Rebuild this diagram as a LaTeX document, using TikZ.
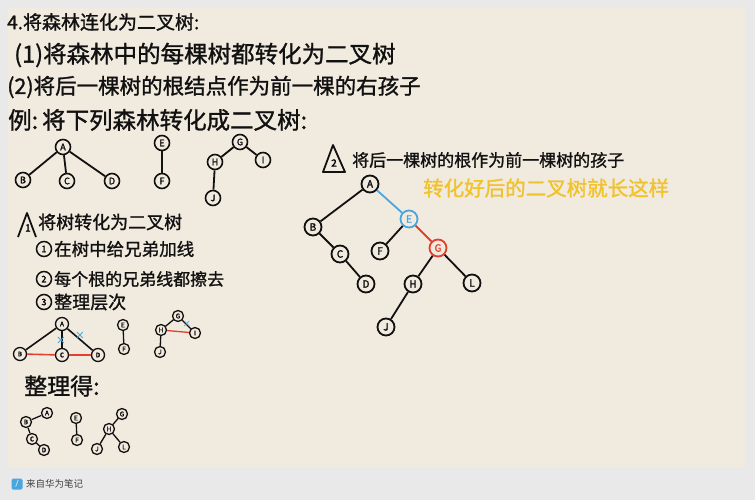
\documentclass[tikz,border=0pt]{standalone}
\usepackage{fontspec}
\setmainfont{Noto Sans CJK SC}[FakeBold=1.2]
\newfontfamily\plaincjk{Noto Sans CJK SC}
\newfontfamily\lbl{Noto Sans CJK SC}[FakeBold=2]
\definecolor{bggray}{HTML}{E9E9E9}
\definecolor{paper}{HTML}{F1EADF}
\definecolor{ink}{HTML}{111111}
\definecolor{myblue}{HTML}{4AA6DE}
\definecolor{myred}{HTML}{E2402E}
\definecolor{myyellow}{HTML}{F0C22C}
\begin{document}
\begin{tikzpicture}[x=1pt,y=-1pt,
  txt/.style={anchor=west,inner sep=0pt,text=ink},
  bn/.style={circle,draw=ink,line width=1.8pt,minimum size=17pt,inner sep=0pt,font=\lbl\fontsize{10}{10}\selectfont,text=ink},
  mn/.style={circle,draw=ink,line width=1.6pt,minimum size=15pt,inner sep=0pt,font=\lbl\fontsize{9}{9}\selectfont,text=ink},
  sn/.style={circle,draw=ink,line width=1.3pt,minimum size=11pt,inner sep=0pt,font=\lbl\fontsize{6.5}{6.5}\selectfont,text=ink},
  edge/.style={draw=ink,line width=1.8pt},
  sedge/.style={draw=ink,line width=1.3pt},
  cnum/.style={circle,draw=ink,line width=1.5pt,minimum size=15pt,inner sep=0pt,font=\lbl\fontsize{9}{9}\selectfont},
  xmark/.style={text=myblue,font=\sffamily\bfseries\fontsize{12}{12}\selectfont,inner sep=0pt}
]
\useasboundingbox (0,0) rectangle (755,500);
\fill[bggray] (0,0) rectangle (755,500);
\fill[paper] (8,8) rectangle (745,468);

% heading texts
\node[txt,font=\fontsize{19}{19}\selectfont] (t1) at (7,22) {4.将森林连化为二叉树:};
\node[txt,font=\fontsize{23.5}{24}\selectfont] (t2) at (14,55) {(1)将森林中的每棵树都转化为二叉树};
\node[txt,font=\fontsize{21.5}{22}\selectfont] (t3) at (7,87) {(2)将后一棵树的根结点作为前一棵的右孩子};
\node[txt,font=\fontsize{23.5}{24}\selectfont] (t4) at (8,120) {例:\,将下列森林转化成二叉树:};

% original forest
\node[mn] (fA) at (63,147) {A};
\node[mn] (fB) at (23,180) {B};
\node[mn] (fC) at (67,181) {C};
\node[mn] (fD) at (112,181) {D};
\node[mn] (fE) at (162,143) {E};
\node[mn] (fF) at (162,181) {F};
\node[mn] (fG) at (240,142) {G};
\node[mn] (fH) at (215,162) {H};
\node[mn] (fI) at (263,160) {I};
\node[mn] (fJ) at (213,198) {J};
\draw[edge] (fA)--(fB); \draw[edge] (fA)--(fC); \draw[edge] (fA)--(fD);
\draw[edge] (fE)--(fF);
\draw[edge] (fG)--(fH); \draw[edge] (fG)--(fI); \draw[edge] (fH)--(fJ);

% step 1 section
\draw[ink,line width=1.8pt,line join=round] (18,237) -- (27,213) -- (36,237);
\node[font=\lbl\fontsize{10}{10}\selectfont] (tri1) at (28,228) {1};
\node[txt,font=\fontsize{18}{18}\selectfont] (s1) at (38,222) {将树转化为二叉树};
\node[cnum] (c1) at (44,249) {1};
\node[txt,font=\fontsize{17.5}{18}\selectfont] (s11) at (54,249) {在树中给兄弟加线};
\node[cnum] (c2) at (44,279) {2};
\node[txt,font=\fontsize{17}{18}\selectfont] (s12) at (54,279) {每个根的兄弟线都擦去};
\node[cnum] (c3) at (44,302) {3};
\node[txt,font=\fontsize{18}{18}\selectfont] (s13) at (54,302) {整理层次};

% step diagram
\node[sn,minimum size=13pt] (pA) at (62,324) {A};
\node[sn,minimum size=13pt] (pB) at (20,354) {B};
\node[sn,minimum size=13pt] (pC) at (62,355) {C};
\node[sn,minimum size=13pt] (pD) at (98,355) {D};
\draw[sedge,line width=1.6pt] (pA)--(pB); \draw[sedge,line width=1.6pt] (pA)--(pC); \draw[sedge,line width=1.6pt] (pA)--(pD);
\draw[myred,line width=1.6pt] (pB)--(pC); \draw[myred,line width=1.6pt] (pC)--(pD);
\node[xmark] (x1) at (61,340) {×};
\node[xmark] (x2) at (80,335) {×};
\node[sn] (pE) at (123,325) {E};
\node[sn] (pF) at (124,349) {F};
\draw[sedge] (pE)--(pF);
\node[sn] (pG) at (178,316) {G};
\node[sn] (pH) at (161,330) {H};
\node[sn] (pI) at (195,333) {I};
\node[sn] (pJ) at (160,352) {J};
\draw[sedge] (pG)--(pH); \draw[sedge] (pG)--(pI); \draw[sedge] (pH)--(pJ);
\draw[myred,line width=1.3pt] (pH)--(pI);
\node[xmark,font=\sffamily\bfseries\fontsize{10}{10}\selectfont] (x3) at (187,324) {×};

\node[txt,font=\fontsize{23}{24}\selectfont] (zl) at (24,386) {整理得:};

% tidied trees
\node[sn] (qA) at (47,413) {A};
\node[sn] (qB) at (26,422) {B};
\node[sn] (qC) at (32,439) {C};
\node[sn] (qD) at (44,450) {D};
\draw[sedge] (qA)--(qB); \draw[sedge] (qB)--(qC); \draw[sedge] (qC)--(qD);
\node[sn] (qE) at (76,418) {E};
\node[sn] (qF) at (77,440) {F};
\draw[sedge] (qE)--(qF);
\node[sn] (qG) at (122,414) {G};
\node[sn] (qH) at (109,429) {H};
\node[sn] (qJ) at (97,449) {J};
\node[sn] (qL) at (124,447) {L};
\draw[sedge] (qG)--(qH); \draw[sedge] (qH)--(qJ); \draw[sedge] (qH)--(qL);

% step 2 section
\draw[ink,line width=1.8pt,line join=round] (323,172) -- (333,145) -- (345,172) -- cycle;
\node[font=\lbl\fontsize{10}{10}\selectfont] (tri2) at (334,163) {2};
\node[txt,font=\fontsize{17}{17}\selectfont] (r1) at (352,160) {将后一棵树的根作为前一棵树的孩子};
\node[txt,font=\fontsize{20.5}{21}\selectfont,text=myyellow] (r2) at (423,188) {转化好后的二叉树就长这样};

% final binary tree
\node[bn] (bA) at (370,184) {A};
\node[bn,draw=myblue,text=myblue] (bE) at (409,219) {E};
\node[bn] (bB) at (313,227) {B};
\node[bn] (bF) at (380,251) {F};
\node[bn,draw=myred,text=myred] (bG) at (438,248) {G};
\node[bn] (bC) at (340,254) {C};
\node[bn] (bD) at (366,284) {D};
\node[bn] (bH) at (413,284) {H};
\node[bn] (bL) at (472,283) {L};
\node[bn] (bJ) at (386,327) {J};
\draw[edge] (bA)--(bB);
\draw[myblue,line width=1.8pt] (bA)--(bE);
\draw[edge] (bE)--(bF);
\draw[myred,line width=1.8pt] (bE)--(bG);
\draw[edge] (bB)--(bC);
\draw[edge] (bC)--(bD);
\draw[edge] (bG)--(bH);
\draw[edge] (bG)--(bL);
\draw[edge] (bH)--(bJ);

% footer
\node[fill=myblue,rounded corners=1.5pt,minimum size=11pt,inner sep=0pt,text=white,font=\sffamily\bfseries\fontsize{7}{7}\selectfont] (icon) at (17,484) {/};
\node[txt,text=black!75,font=\plaincjk\fontsize{9.5}{10}\selectfont] (ft) at (26,484) {来自华为笔记};
\end{tikzpicture}
\end{document}
